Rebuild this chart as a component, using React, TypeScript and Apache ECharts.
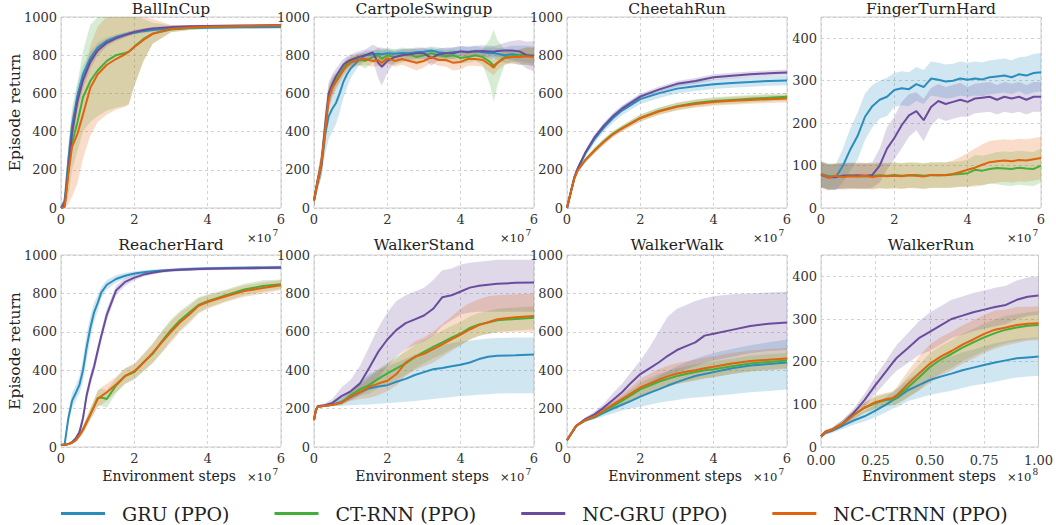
import React, { useEffect, useRef } from "react";
import * as echarts from "echarts";

const NAMES = ["GRU (PPO)", "CT-RNN (PPO)", "NC-GRU (PPO)", "NC-CTRNN (PPO)"];
const COLORS = ["#2b8cbe", "#44ae3a", "#6a4c9c", "#e3620e"];
const FONT = "DejaVu Serif";

// ---- BallInCup ----
const ballX = [0, 0.1, 0.2, 0.3, 0.45, 0.6, 0.8, 1.0, 1.25, 1.5, 1.75, 1.85, 2.0, 2.25, 2.5, 3.0, 3.5, 4, 5, 6];
const ballGru = [0, 40, 250, 430, 590, 700, 785, 840, 875, 895, 908, 912, 918, 926, 932, 938, 942, 944, 946, 947];
const ballGruSd = [0, 30, 60, 60, 55, 45, 35, 25, 18, 14, 12, 12, 10, 10, 9, 8, 8, 8, 8, 8];
const ballNcGru = [0, 20, 200, 390, 560, 670, 765, 825, 865, 888, 905, 912, 922, 932, 940, 947, 951, 953, 955, 957];
const ballNcGruSd = [0, 25, 50, 55, 50, 45, 35, 25, 18, 14, 12, 12, 10, 9, 8, 7, 7, 7, 6, 6];
const ballCt = [0, 10, 190, 340, 450, 580, 665, 720, 770, 800, 812, 818, 845, 885, 913, 935, 943, 948, 952, 955];
const ballCtLo = [0, 0, 60, 200, 300, 400, 450, 480, 510, 525, 535, 545, 640, 770, 860, 920, 932, 940, 945, 948];
const ballCtHi = [0, 60, 330, 520, 660, 820, 960, 1000, 1000, 1000, 1000, 1000, 1000, 990, 970, 955, 952, 955, 958, 960];
const ballNcCt = [0, 5, 180, 320, 390, 490, 630, 700, 750, 780, 805, 818, 843, 880, 912, 937, 945, 949, 953, 956];
const ballNcCtLo = [0, 0, 20, 60, 130, 260, 380, 450, 490, 515, 530, 540, 640, 770, 860, 920, 932, 940, 945, 948];
const ballNcCtHi = [0, 40, 300, 480, 580, 690, 850, 950, 1000, 1000, 1000, 1000, 1000, 1000, 990, 958, 952, 955, 958, 960];

// ---- CartpoleSwingup ----
const cartX = [0, 0.1, 0.2, 0.3, 0.4, 0.5, 0.6, 0.7, 0.8, 0.9, 1.0, 1.2, 1.4, 1.6, 1.75, 1.85, 2.0, 2.2, 2.4, 2.6, 2.8, 3.0, 3.2, 3.4, 3.6, 3.8, 4.0, 4.2, 4.4, 4.6, 4.8, 4.9, 5.0, 5.2, 5.4, 5.6, 5.8, 6.0];
const cartGru = [40, 140, 220, 380, 480, 520, 550, 600, 660, 700, 730, 770, 800, 805, 808, 805, 810, 808, 812, 810, 815, 818, 825, 815, 810, 815, 820, 818, 822, 815, 810, 812, 808, 800, 805, 800, 800, 795];
const cartGruSd = [30, 40, 60, 100, 120, 120, 110, 100, 85, 70, 50, 30, 25, 20, 20, 20, 20, 20, 20, 20, 20, 20, 20, 25, 25, 25, 25, 25, 25, 25, 30, 30, 30, 40, 45, 50, 50, 50];
const cartNcGru = [40, 140, 230, 420, 600, 650, 690, 720, 750, 765, 775, 790, 800, 815, 760, 740, 770, 790, 800, 805, 810, 810, 785, 805, 810, 810, 820, 815, 820, 822, 820, 818, 822, 825, 825, 820, 800, 795];
const cartNcGruSd = [30, 40, 60, 90, 60, 50, 40, 35, 30, 30, 30, 30, 30, 40, 80, 100, 60, 30, 30, 30, 30, 30, 40, 30, 30, 30, 30, 30, 30, 30, 30, 30, 30, 40, 50, 60, 70, 80];
const cartCt = [40, 140, 230, 400, 580, 640, 670, 700, 730, 755, 765, 780, 770, 790, 800, 780, 800, 790, 800, 805, 790, 800, 810, 800, 795, 800, 785, 790, 800, 790, 765, 745, 760, 790, 795, 800, 800, 798];
const cartCtSd = [30, 40, 60, 80, 60, 50, 40, 35, 30, 30, 30, 30, 40, 30, 40, 50, 40, 40, 40, 30, 40, 30, 30, 30, 30, 30, 30, 30, 30, 40, 120, 190, 120, 40, 30, 30, 40, 40];
const cartNcCt = [40, 140, 230, 400, 570, 630, 660, 690, 720, 745, 760, 775, 780, 770, 775, 760, 785, 770, 780, 770, 760, 770, 790, 775, 775, 760, 765, 780, 780, 775, 750, 735, 760, 785, 790, 790, 795, 790];
const cartNcCtSd = [30, 40, 60, 80, 60, 50, 40, 35, 30, 30, 30, 30, 30, 30, 30, 30, 30, 30, 30, 35, 40, 35, 30, 30, 35, 40, 40, 35, 35, 35, 40, 40, 40, 35, 35, 40, 45, 50];

// ---- CheetahRun ----
const cheeX = [0, 0.1, 0.2, 0.3, 0.5, 0.75, 1, 1.25, 1.5, 2, 2.5, 3, 3.5, 4, 4.5, 5, 5.5, 6];
const cheeGru = [0, 80, 160, 210, 285, 360, 420, 470, 510, 570, 600, 625, 638, 648, 655, 660, 665, 668];
const cheeGruSd = [0, 8, 10, 12, 15, 20, 22, 25, 25, 25, 25, 25, 25, 25, 25, 25, 25, 25];
const cheeNcGru = [0, 80, 160, 210, 290, 370, 430, 480, 520, 583, 620, 650, 665, 685, 693, 700, 705, 710];
const cheeNcGruSd = [0, 5, 8, 10, 12, 15, 15, 15, 15, 15, 15, 15, 15, 15, 15, 15, 15, 15];
const cheeCt = [0, 80, 155, 200, 252, 302, 348, 388, 418, 472, 508, 533, 550, 560, 566, 572, 577, 582];
const cheeNcCt = [0, 80, 155, 200, 250, 300, 345, 385, 415, 470, 505, 530, 545, 555, 561, 566, 570, 573];
const cheeCtSd = [0, 5, 8, 10, 12, 15, 15, 15, 15, 18, 18, 20, 20, 20, 20, 20, 20, 20];

// ---- FingerTurnHard ----
const fingX = [0, 0.2, 0.4, 0.6, 0.8, 1, 1.2, 1.4, 1.6, 1.8, 2, 2.2, 2.4, 2.6, 2.8, 3, 3.2, 3.4, 3.6, 3.8, 4, 4.2, 4.4, 4.6, 4.8, 5, 5.2, 5.4, 5.6, 5.8, 6];
const fingGru = [80, 75, 72, 100, 138, 170, 215, 240, 255, 262, 278, 282, 280, 292, 285, 305, 302, 298, 300, 305, 302, 305, 303, 308, 310, 312, 308, 315, 312, 318, 320];
const fingGruSd = [30, 30, 30, 40, 50, 55, 55, 50, 45, 45, 40, 40, 40, 40, 40, 40, 40, 40, 40, 40, 40, 40, 40, 40, 40, 40, 40, 40, 45, 45, 45];
const fingNcGru = [78, 72, 73, 76, 76, 77, 76, 78, 100, 140, 165, 195, 218, 228, 207, 238, 252, 245, 250, 255, 250, 258, 260, 262, 255, 262, 258, 262, 255, 262, 262];
const fingNcGruSd = [30, 30, 30, 30, 30, 30, 30, 30, 40, 50, 50, 55, 50, 45, 50, 45, 40, 40, 40, 40, 35, 35, 35, 35, 35, 35, 35, 35, 35, 35, 35];
const fingCt = [78, 74, 75, 76, 77, 75, 74, 76, 77, 76, 78, 76, 77, 78, 76, 77, 78, 77, 79, 80, 82, 90, 88, 92, 94, 93, 92, 95, 93, 92, 100];
const fingCtSd = [30, 30, 30, 30, 30, 30, 30, 30, 30, 30, 30, 30, 30, 30, 30, 30, 30, 30, 30, 30, 32, 35, 35, 35, 38, 40, 40, 40, 40, 40, 40];
const fingNcCt = [80, 72, 76, 73, 75, 74, 76, 73, 76, 75, 76, 75, 77, 76, 74, 78, 77, 78, 80, 85, 90, 95, 102, 108, 110, 112, 110, 113, 112, 115, 118];
const fingNcCtSd = [30, 30, 30, 30, 30, 30, 30, 30, 30, 30, 30, 30, 30, 30, 30, 30, 30, 30, 32, 35, 40, 45, 48, 50, 50, 50, 50, 50, 50, 50, 50];

// ---- ReacherHard ----
const reachX = [0, 0.1, 0.2, 0.3, 0.4, 0.5, 0.6, 0.7, 0.8, 0.9, 1.0, 1.1, 1.25, 1.5, 1.75, 2.0, 2.25, 2.5, 2.75, 3.0, 3.25, 3.5, 3.75, 4.0, 4.5, 5.0, 5.5, 6.0];
const reachGru = [10, 15, 150, 240, 280, 322, 400, 520, 620, 700, 750, 805, 845, 875, 892, 904, 910, 915, 919, 922, 925, 927, 929, 930, 932, 934, 935, 936];
const reachGruSd = [5, 5, 30, 40, 40, 45, 60, 70, 60, 50, 40, 30, 25, 20, 15, 12, 10, 10, 8, 8, 8, 8, 8, 8, 8, 8, 8, 8];
const reachNcGru = [10, 12, 15, 25, 45, 75, 150, 270, 350, 417, 500, 580, 690, 815, 860, 882, 898, 908, 915, 920, 923, 925, 927, 928, 930, 931, 932, 933];
const reachNcGruSd = [5, 5, 5, 8, 10, 20, 30, 30, 30, 30, 30, 30, 30, 25, 20, 15, 10, 10, 8, 8, 8, 8, 8, 8, 8, 8, 8, 8];
const reachCt = [10, 12, 15, 22, 35, 60, 90, 130, 170, 210, 255, 258, 250, 320, 370, 390, 440, 485, 550, 610, 660, 700, 740, 760, 790, 820, 838, 848];
const reachNcCt = [10, 12, 15, 22, 35, 60, 90, 130, 170, 210, 250, 265, 285, 325, 370, 395, 440, 490, 545, 600, 650, 690, 735, 755, 785, 812, 828, 843];
const reachCtSd = [5, 5, 5, 8, 10, 15, 20, 25, 30, 35, 40, 45, 45, 40, 40, 40, 45, 50, 55, 55, 50, 45, 40, 35, 30, 30, 30, 25];

// ---- WalkerStand ----
const standX = [0, 0.05, 0.1, 0.3, 0.5, 0.75, 1.0, 1.25, 1.5, 1.75, 2.0, 2.25, 2.5, 2.75, 3.0, 3.25, 3.5, 3.75, 4.0, 4.25, 4.5, 4.75, 5.0, 5.5, 6.0];
const standGru = [140, 190, 210, 215, 220, 235, 260, 285, 305, 315, 322, 340, 355, 375, 390, 405, 412, 420, 428, 440, 458, 470, 475, 478, 482];
const standGruLo = [140, 185, 205, 210, 212, 215, 218, 220, 222, 225, 228, 232, 236, 240, 245, 250, 255, 260, 265, 268, 272, 275, 278, 280, 280];
const standGruHi = [140, 195, 215, 222, 230, 260, 300, 340, 380, 400, 420, 440, 460, 480, 500, 520, 530, 540, 550, 555, 560, 565, 568, 570, 570];
const standNcGru = [140, 190, 212, 218, 230, 265, 290, 330, 410, 495, 560, 610, 645, 665, 685, 720, 780, 790, 810, 830, 840, 845, 850, 855, 857];
const standNcGruLo = [140, 180, 205, 212, 215, 230, 245, 270, 300, 360, 420, 470, 510, 530, 550, 580, 630, 660, 690, 700, 705, 705, 705, 705, 705];
const standNcGruHi = [140, 200, 220, 228, 250, 310, 350, 420, 520, 620, 700, 760, 790, 810, 830, 870, 920, 930, 950, 960, 965, 970, 975, 975, 975];
const standCt = [140, 190, 210, 215, 220, 232, 270, 300, 322, 355, 383, 410, 435, 468, 496, 522, 545, 570, 591, 620, 638, 648, 660, 667, 673];
const standCtSd = [0, 5, 5, 5, 8, 15, 25, 35, 45, 50, 55, 60, 60, 60, 60, 60, 60, 60, 60, 60, 60, 60, 60, 60, 60];
const standNcCt = [140, 190, 210, 215, 220, 230, 262, 285, 312, 330, 345, 380, 440, 470, 485, 510, 535, 560, 585, 612, 635, 650, 665, 676, 682];
const standNcCtLo = [140, 185, 205, 210, 212, 220, 240, 250, 255, 270, 290, 320, 370, 400, 420, 440, 470, 500, 530, 560, 580, 590, 595, 600, 600];
const standNcCtHi = [140, 195, 215, 220, 228, 240, 285, 320, 360, 400, 430, 460, 510, 550, 570, 600, 640, 680, 720, 750, 770, 785, 790, 795, 800];

// ---- WalkerWalk ----
const walkX = [0, 0.25, 0.5, 0.75, 1.0, 1.25, 1.5, 1.75, 2.0, 2.25, 2.5, 2.75, 3.0, 3.25, 3.5, 3.75, 4.0, 4.5, 5.0, 5.5, 6.0];
const walkGru = [35, 110, 138, 155, 178, 200, 220, 240, 262, 282, 300, 320, 338, 355, 370, 380, 390, 410, 425, 432, 440];
const walkGruLo = [35, 105, 130, 145, 160, 175, 190, 200, 210, 220, 230, 238, 245, 252, 258, 262, 266, 275, 285, 292, 300];
const walkGruHi = [35, 115, 148, 170, 200, 230, 255, 280, 310, 340, 370, 395, 420, 440, 460, 475, 490, 510, 530, 545, 560];
const walkNcGru = [35, 110, 145, 170, 205, 245, 285, 335, 380, 410, 440, 475, 505, 525, 545, 580, 590, 610, 630, 642, 648];
const walkNcGruLo = [35, 105, 135, 160, 185, 215, 245, 280, 310, 330, 350, 370, 390, 405, 420, 440, 450, 470, 490, 500, 505];
const walkNcGruHi = [35, 115, 155, 185, 225, 280, 330, 390, 450, 520, 600, 680, 720, 740, 760, 775, 785, 795, 800, 805, 810];
const walkCt = [35, 110, 140, 158, 185, 212, 240, 270, 300, 320, 340, 355, 370, 380, 390, 400, 405, 420, 435, 443, 450];
const walkCtSd = [0, 5, 8, 10, 15, 20, 25, 30, 35, 40, 40, 40, 40, 40, 40, 40, 40, 40, 40, 40, 40];
const walkNcCt = [35, 110, 140, 160, 190, 220, 250, 280, 310, 330, 350, 368, 383, 392, 400, 410, 418, 435, 448, 455, 461];
const walkNcCtSd = [0, 5, 8, 10, 15, 20, 25, 35, 45, 50, 55, 55, 55, 55, 55, 55, 55, 55, 55, 55, 55];

// ---- WalkerRun ----
const runX = [0, 0.02, 0.05, 0.1, 0.15, 0.2, 0.25, 0.3, 0.33, 0.35, 0.4, 0.45, 0.5, 0.55, 0.6, 0.65, 0.7, 0.75, 0.8, 0.85, 0.9, 0.95, 1.0];
const runGru = [25, 33, 38, 50, 62, 72, 85, 100, 110, 115, 133, 145, 157, 165, 172, 180, 186, 192, 198, 203, 208, 210, 212];
const runGruSd = [5, 5, 5, 8, 10, 12, 15, 18, 20, 22, 25, 30, 35, 38, 40, 42, 42, 44, 45, 45, 45, 45, 45];
const runNcGru = [25, 35, 40, 55, 80, 110, 145, 178, 198, 210, 232, 255, 270, 285, 300, 308, 316, 322, 328, 333, 345, 352, 355];
const runNcGruSd = [5, 5, 5, 8, 10, 15, 20, 25, 28, 30, 35, 40, 45, 45, 45, 45, 45, 45, 45, 45, 45, 45, 45];
const runCt = [25, 35, 40, 55, 75, 92, 103, 110, 112, 118, 140, 163, 187, 205, 218, 233, 245, 257, 267, 275, 280, 284, 286];
const runCtSd = [5, 5, 5, 8, 10, 12, 15, 15, 15, 18, 25, 30, 32, 32, 32, 32, 32, 32, 32, 32, 32, 32, 32];
const runNcCt = [25, 35, 40, 55, 75, 92, 105, 112, 115, 122, 148, 172, 195, 212, 225, 240, 252, 265, 275, 280, 286, 289, 290];
const runNcCtSd = [5, 5, 5, 8, 10, 12, 15, 15, 15, 20, 30, 40, 45, 45, 45, 45, 45, 45, 45, 42, 42, 40, 40];

type Band = { sd?: number[]; lo?: number[]; hi?: number[] };
type Panel = {
  title: string; xs: number[]; xmax: number; xint: number; ymax: number; yint: number;
  exp: string; means: number[][]; bands: Band[];
};

const PANELS: Panel[] = [
  { title: "BallInCup", xs: ballX, xmax: 6, xint: 2, ymax: 1000, yint: 200, exp: "7",
    means: [ballGru, ballCt, ballNcGru, ballNcCt],
    bands: [{ sd: ballGruSd }, { lo: ballCtLo, hi: ballCtHi }, { sd: ballNcGruSd }, { lo: ballNcCtLo, hi: ballNcCtHi }] },
  { title: "CartpoleSwingup", xs: cartX, xmax: 6, xint: 2, ymax: 1000, yint: 200, exp: "7",
    means: [cartGru, cartCt, cartNcGru, cartNcCt],
    bands: [{ sd: cartGruSd }, { sd: cartCtSd }, { sd: cartNcGruSd }, { sd: cartNcCtSd }] },
  { title: "CheetahRun", xs: cheeX, xmax: 6, xint: 2, ymax: 1000, yint: 200, exp: "7",
    means: [cheeGru, cheeCt, cheeNcGru, cheeNcCt],
    bands: [{ sd: cheeGruSd }, { sd: cheeCtSd }, { sd: cheeNcGruSd }, { sd: cheeCtSd }] },
  { title: "FingerTurnHard", xs: fingX, xmax: 6, xint: 2, ymax: 450, yint: 100, exp: "7",
    means: [fingGru, fingCt, fingNcGru, fingNcCt],
    bands: [{ sd: fingGruSd }, { sd: fingCtSd }, { sd: fingNcGruSd }, { sd: fingNcCtSd }] },
  { title: "ReacherHard", xs: reachX, xmax: 6, xint: 2, ymax: 1000, yint: 200, exp: "7",
    means: [reachGru, reachCt, reachNcGru, reachNcCt],
    bands: [{ sd: reachGruSd }, { sd: reachCtSd }, { sd: reachNcGruSd }, { sd: reachCtSd }] },
  { title: "WalkerStand", xs: standX, xmax: 6, xint: 2, ymax: 1000, yint: 200, exp: "7",
    means: [standGru, standCt, standNcGru, standNcCt],
    bands: [{ lo: standGruLo, hi: standGruHi }, { sd: standCtSd }, { lo: standNcGruLo, hi: standNcGruHi }, { lo: standNcCtLo, hi: standNcCtHi }] },
  { title: "WalkerWalk", xs: walkX, xmax: 6, xint: 2, ymax: 1000, yint: 200, exp: "7",
    means: [walkGru, walkCt, walkNcGru, walkNcCt],
    bands: [{ lo: walkGruLo, hi: walkGruHi }, { sd: walkCtSd }, { lo: walkNcGruLo, hi: walkNcGruHi }, { sd: walkNcCtSd }] },
  { title: "WalkerRun", xs: runX, xmax: 1, xint: 0.25, ymax: 450, yint: 100, exp: "8",
    means: [runGru, runCt, runNcGru, runNcCt],
    bands: [{ sd: runGruSd }, { sd: runCtSd }, { sd: runNcGruSd }, { sd: runNcCtSd }] },
];

const LEFTS = [61, 314, 567, 821];
const TOPS = [17, 255];
const HEIGHTS = [191, 192];
const W = 220;

function loHi(mean: number[], b: Band): [number[], number[]] {
  if (b.lo && b.hi) return [b.lo, b.hi];
  const sd = b.sd || mean.map(() => 0);
  return [mean.map((m, i) => m - sd[i]), mean.map((m, i) => m + sd[i])];
}

function txt(text: string, x: number, y: number, size: number, align: string, extra: any = {}) {
  return {
    type: "text", x, y, ...extra,
    style: { text, fill: "#222", fontFamily: FONT, fontSize: size, align, verticalAlign: "middle" },
  };
}

function buildOption() {
  const grid: any[] = [];
  const xAxis: any[] = [];
  const yAxis: any[] = [];
  const series: any[] = [];
  const graphic: any[] = [];

  PANELS.forEach((p, k) => {
    const row = Math.floor(k / 4);
    const col = k % 4;
    const left = LEFTS[col];
    const top = TOPS[row];
    const h = HEIGHTS[row];
    grid.push({ left, top, width: W, height: h, show: true, borderColor: "#cfcfcf", borderWidth: 1, backgroundColor: "transparent" });
    const split = { show: true, lineStyle: { color: "#c6c6c6", type: [3, 3], width: 0.8 } };
    xAxis.push({
      gridIndex: k, type: "value", min: 0, max: p.xmax, interval: p.xint,
      axisLine: { show: false }, axisTick: { show: false }, splitLine: split,
      axisLabel: {
        margin: p.xmax === 1 ? 7 : 5, fontSize: 13, fontFamily: FONT, color: "#333", showMinLabel: true, showMaxLabel: true,
        formatter: (v: number) => (p.xmax === 1 ? v.toFixed(2) : String(v)),
      },
    });
    yAxis.push({
      gridIndex: k, type: "value", min: 0, max: p.ymax, interval: p.yint,
      axisLine: { show: false }, axisTick: { show: false }, splitLine: split,
      axisLabel: {
        margin: 4, fontSize: 13, fontFamily: FONT, color: "#333",
        formatter: (v: number) => (v % p.yint === 0 ? String(v) : ""),
      },
    });
    p.means.forEach((m, s) => {
      const [lo, hi] = loHi(m, p.bands[s]);
      const xs = p.xs;
      series.push({
        type: "custom", xAxisIndex: k, yAxisIndex: k, silent: true, clip: true, z: 2,
        data: xs.map((x, i) => [x, lo[i], hi[i]]),
        encode: { x: 0, y: [1, 2] },
        renderItem: (params: any, api: any) => {
          if (params.dataIndex !== 0) return null;
          const pts: number[][] = [];
          for (let i = 0; i < xs.length; i++) pts.push(api.coord([xs[i], hi[i]]));
          for (let i = xs.length - 1; i >= 0; i--) pts.push(api.coord([xs[i], lo[i]]));
          return { type: "polygon", shape: { points: pts }, style: { fill: COLORS[s], opacity: 0.22 } };
        },
      });
    });
    p.means.forEach((m, s) => {
      series.push({
        name: NAMES[s], type: "line", xAxisIndex: k, yAxisIndex: k, silent: true,
        symbol: "none", showSymbol: false, z: 3 + s,
        lineStyle: { color: COLORS[s], width: 2 }, itemStyle: { color: COLORS[s] },
        data: p.xs.map((x, i) => [x, m[i]]),
      });
    });
    const cx = left + W / 2;
    const right = left + W;
    graphic.push(txt(p.title, cx, row === 0 ? 9 : 245, 15.5, "center"));
    const expY = row === 0 ? 238 : 477;
    graphic.push(txt("×10", right - 34, expY, 11.5, "left"));
    graphic.push(txt(p.exp, right - 8.5, expY - 5, 9, "left"));
    if (row === 1) graphic.push(txt("Environment steps", cx - 2, 476, 14, "center"));
    if (col === 0) graphic.push(txt("Episode return", 15, top + h / 2, 15.5, "center", { rotation: Math.PI / 2 }));
  });

  return {
    animation: false,
    backgroundColor: "#ffffff",
    textStyle: { fontFamily: FONT },
    grid, xAxis, yAxis, series, graphic,
    legend: {
      data: NAMES, left: 56, top: 499, icon: "rect", itemWidth: 44, itemHeight: 3, itemGap: 45,
      selectedMode: false,
      textStyle: { fontFamily: FONT, fontSize: 19, color: "#222", padding: [0, 0, 0, 12] },
    },
  };
}

export default function App() {
  const ref = useRef<HTMLDivElement>(null);
  useEffect(() => {
    document.body.style.margin = "0";
    if (!ref.current) return;
    const chart = echarts.init(ref.current, undefined, { renderer: "svg" });
    chart.setOption(buildOption() as any);
    return () => chart.dispose();
  }, []);
  return <div ref={ref} style={{ width: 1056, height: 525 }} />;
}
